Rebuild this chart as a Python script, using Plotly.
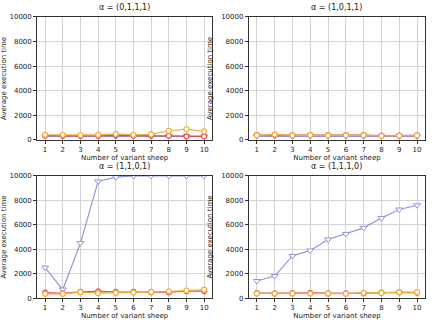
import plotly.graph_objects as go
from plotly.subplots import make_subplots

x_vals = list(range(1, 11))
panel_titles = ["α = (0,1,1,1)", "α = (1,0,1,1)", "α = (1,1,0,1)", "α = (1,1,1,0)"]

blue_series = [
    [300, 300, 300, 300, 300, 300, 300, 300, 290, 290],
    [300, 320, 300, 300, 300, 300, 300, 290, 290, 290],
    [2500, 700, 4500, 9550, 9900, 10000, 10000, 10000, 10000, 10000],
    [1400, 1800, 3450, 3900, 4800, 5250, 5750, 6550, 7250, 7600],
]
red_series = [
    [350, 330, 330, 340, 380, 350, 360, 350, 300, 290],
    [400, 420, 380, 400, 390, 400, 400, 350, 360, 370],
    [450, 380, 500, 550, 500, 520, 480, 480, 560, 570],
    [400, 380, 400, 430, 380, 380, 400, 450, 470, 450],
]
orange_series = [
    [420, 420, 390, 420, 500, 420, 460, 750, 880, 700],
    [380, 450, 370, 390, 380, 380, 390, 340, 350, 370],
    [350, 350, 480, 400, 420, 450, 500, 550, 620, 700],
    [380, 370, 380, 370, 380, 360, 430, 420, 470, 480],
]

BLUE = "#8f95d8"
RED = "#e9474b"
ORANGE = "#f7ad2e"

fig = make_subplots(rows=2, cols=2)

for i in range(4):
    r, c = i // 2 + 1, i % 2 + 1
    fig.add_trace(go.Scatter(x=x_vals, y=blue_series[i], mode="lines+markers",
                             line=dict(color=BLUE, width=1.2),
                             marker=dict(symbol="triangle-down", size=6, color="white",
                                         line=dict(color=BLUE, width=1)),
                             showlegend=False), row=r, col=c)
    fig.add_trace(go.Scatter(x=x_vals, y=red_series[i], mode="lines+markers",
                             line=dict(color=RED, width=1.2),
                             marker=dict(symbol="circle", size=5, color="white",
                                         line=dict(color=RED, width=1.2)),
                             showlegend=False), row=r, col=c)
    fig.add_trace(go.Scatter(x=x_vals, y=orange_series[i], mode="lines+markers",
                             line=dict(color=ORANGE, width=1.2),
                             marker=dict(symbol="circle", size=5, color="white",
                                         line=dict(color=ORANGE, width=1.2)),
                             showlegend=False), row=r, col=c)

xdom = [[0.086, 0.491], [0.576, 0.984]]
ydom = [[0.568, 0.948], [0.080, 0.457]]

axis_common = dict(showline=True, mirror=True, linecolor="#333333", linewidth=1,
                   ticks="outside", ticklen=3, tickcolor="#333333",
                   showgrid=True, gridcolor="#d4d4d4", gridwidth=1, zeroline=False,
                   automargin=False, tickfont=dict(size=7, color="#222222"))

for i in range(4):
    r, c = i // 2, i % 2
    fig.update_xaxes(domain=xdom[c], range=[0.55, 10.45], tickvals=x_vals,
                     title=dict(text="Number of variant sheep", font=dict(size=7, color="#222222"), standoff=1),
                     row=r + 1, col=c + 1, **axis_common)
    fig.update_yaxes(domain=ydom[r], range=[0, 10000], tickvals=[0, 2000, 4000, 6000, 8000, 10000],
                     tickformat="d",
                     title=dict(text="Average execution time", font=dict(size=7, color="#222222"), standoff=7),
                     row=r + 1, col=c + 1, **axis_common)
    fig.add_annotation(text=panel_titles[i], xref="paper", yref="paper",
                       x=(xdom[c][0] + xdom[c][1]) / 2, y=ydom[r][1] + 0.008,
                       xanchor="center", yanchor="bottom", showarrow=False,
                       font=dict(size=8, color="#222222"))

fig.update_layout(width=432, height=324, margin=dict(l=0, r=0, t=0, b=0),
                  paper_bgcolor="white", plot_bgcolor="white",
                  font=dict(family="DejaVu Sans", color="#222222"))

fig.write_html("out.html", config={"displayModeBar": False},
               post_script="document.body.style.margin='0';")
